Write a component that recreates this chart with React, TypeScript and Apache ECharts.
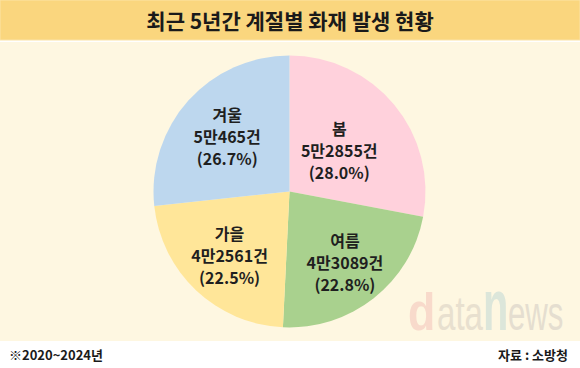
import React, { useEffect, useRef } from "react";
import * as echarts from "echarts";

const seasons = ["봄", "여름", "가을", "겨울"];
const counts = [52855, 43089, 42561, 50465];
const countLabels = ["5만2855건", "4만3089건", "4만2561건", "5만465건"];
const percentLabels = ["28.0%", "22.8%", "22.5%", "26.7%"];
const colors = ["#FFD1DC", "#A9D18E", "#FFE699", "#BDD7EE"];
const titleText = "최근 5년간 계절별 화재 발생 현황";
const noteText = "※2020~2024년";
const sourceText = "자료 : 소방청";

// layout: radial factor for each inside label relative to ECharts' default (half radius)
const labelRadiusScale = [0.91, 1.26, 1.23, 1.18];

const FONT = "'Noto Sans CJK KR', 'Noto Sans', sans-serif";
const WM = "'Liberation Sans', Arial, sans-serif";
const CX = 289.5;
const CY = 191.5;

export default function App() {
  const ref = useRef<HTMLDivElement>(null);
  useEffect(() => {
    if (!ref.current) return;
    const chart = echarts.init(ref.current, null, { renderer: "svg" });
    chart.setOption({
      animation: false,
      backgroundColor: "#FFFFFF",
      graphic: [
        {
          type: "rect",
          z: -10,
          shape: { x: 0, y: 0, width: 580, height: 40 },
          style: { fill: "#FAD67E", stroke: "#FBE3A6", lineWidth: 1 },
        },
        {
          type: "rect",
          z: -10,
          shape: { x: 0, y: 42, width: 580, height: 299 },
          style: { fill: "#FEF7E1" },
        },
        {
          type: "text",
          x: 290,
          y: 20,
          style: {
            text: titleText,
            fill: "#1A1A1A",
            font: `bold 21px ${FONT}`,
            align: "center",
            verticalAlign: "middle",
          },
        },
        {
          type: "text",
          x: 408,
          y: 312,
          scaleX: 0.86,
          z: -5,
          style: { text: "d", font: `bold 52px ${WM}`, fill: "#F8DACB", align: "left", verticalAlign: "middle" },
        },
        {
          type: "text",
          x: 437,
          y: 313.4,
          scaleX: 0.69,
          z: -5,
          style: { text: "ata", font: `48px ${WM}`, fill: "#E8E0CF", align: "left", verticalAlign: "middle" },
        },
        {
          type: "text",
          x: 483,
          y: 304.8,
          scaleX: 0.8,
          scaleY: 1.4,
          z: -5,
          style: { text: "n", font: `bold 52px ${WM}`, fill: "#DCE6DA", align: "left", verticalAlign: "middle" },
        },
        {
          type: "text",
          x: 508,
          y: 313.4,
          scaleX: 0.65,
          z: -5,
          style: { text: "ews", font: `48px ${WM}`, fill: "#E5DED0", align: "left", verticalAlign: "middle" },
        },
        {
          type: "text",
          x: 9,
          y: 354,
          style: {
            text: noteText,
            fill: "#1A1A1A",
            font: `bold 13px ${FONT}`,
            align: "left",
            verticalAlign: "middle",
          },
        },
        {
          type: "text",
          x: 568,
          y: 354,
          style: {
            text: sourceText,
            fill: "#1A1A1A",
            font: `bold 13px ${FONT}`,
            align: "right",
            verticalAlign: "middle",
          },
        },
      ],
      series: [
        {
          type: "pie",
          center: [CX, CY],
          radius: [0, 136],
          startAngle: 90,
          clockwise: true,
          silent: true,
          label: {
            show: true,
            position: "inside",
            color: "#1F1F1F",
            fontFamily: FONT,
            fontSize: 16,
            fontWeight: "bold",
            lineHeight: 22,
            formatter: (p: any) =>
              `${seasons[p.dataIndex]}\n${countLabels[p.dataIndex]}\n(${percentLabels[p.dataIndex]})`,
          },
          labelLayout: (params: any) => {
            const r = params.labelRect;
            const lx = r.x + r.width / 2;
            const ly = r.y + r.height / 2;
            const k = labelRadiusScale[params.dataIndex] - 1;
            return { dx: (lx - CX) * k, dy: (ly - CY) * k };
          },
          labelLine: { show: false },
          data: seasons.map((s, i) => ({
            name: s,
            value: counts[i],
            itemStyle: { color: colors[i] },
          })),
        },
      ],
    });
    return () => chart.dispose();
  }, []);
  return (
    <div
      ref={ref}
      style={{ position: "absolute", left: 0, top: 0, width: 580, height: 368 }}
    />
  );
}
